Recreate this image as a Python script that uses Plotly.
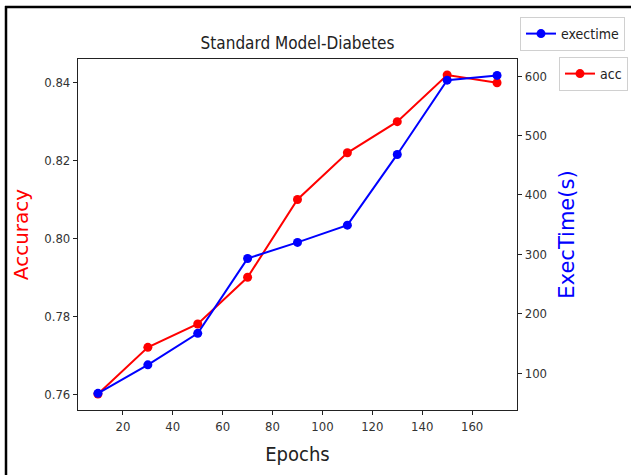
import plotly.graph_objects as go

epochs = [10, 30, 50, 70, 90, 110, 130, 150, 170]
accuracy = [0.760, 0.772, 0.778, 0.790, 0.810, 0.822, 0.830, 0.842, 0.840]
exectime = [66, 114, 167, 293, 320, 349, 468, 593, 601]

acc_ticks = [0.76, 0.78, 0.80, 0.82, 0.84]
time_ticks = [100, 200, 300, 400, 500, 600]
epoch_ticks = [20, 40, 60, 80, 100, 120, 140, 160]

W, H = 631, 475
L, R, T, B = 78, 114, 59, 65
pw, ph = W - L - R, H - T - B

cond = "DejaVu Sans Condensed, Liberation Sans Narrow, DejaVu Sans, sans-serif"
norm = "DejaVu Sans, sans-serif"

fig = go.Figure()
fig.add_trace(go.Scatter(
    x=epochs, y=accuracy, name="acc", mode="lines+markers",
    line=dict(color="#ff0000", width=2), marker=dict(color="#ff0000", size=9),
    yaxis="y", legend="legend2"))
fig.add_trace(go.Scatter(
    x=epochs, y=exectime, name="exectime", mode="lines+markers",
    line=dict(color="#0000ff", width=2), marker=dict(color="#0000ff", size=9),
    yaxis="y2", legend="legend"))

def px2paper_x(px):
    return (px - L) / pw

def px2paper_y(py):
    return (H - B - py) / ph

axis_common = dict(showgrid=False, zeroline=False, showline=True, linecolor="#222",
                   linewidth=1.2, ticks="outside", ticklen=4, tickcolor="#222",
                   tickfont=dict(family=cond, size=13, color="#333"), mirror=False,
                   automargin=False)

fig.update_layout(
    width=W, height=H,
    margin=dict(l=L, r=R, t=T, b=B, autoexpand=False),
    paper_bgcolor="white", plot_bgcolor="white",
    title=dict(text="Standard Model-Diabetes", x=297.5 / W,
               xanchor="center", y=1 - 43 / H, yanchor="middle",
               font=dict(family=cond, size=17, color="#222")),
    xaxis=dict(range=[2, 178], tickvals=epoch_ticks, mirror=True,
               title=dict(text="Epochs", font=dict(family=cond, size=20, color="#222"), standoff=14),
               **{k: v for k, v in axis_common.items() if k != "mirror"}),
    yaxis=dict(range=[0.7559, 0.8461], tickvals=acc_ticks, tickformat=".2f",
               title=dict(text="Accuracy", font=dict(family=norm, size=20, color="#ff0000"), standoff=10),
               **axis_common),
    yaxis2=dict(range=[38, 628.6], tickvals=time_ticks, overlaying="y", side="right",
                title=dict(text="ExecTime(s)", font=dict(family=norm, size=21, color="#0000ff"), standoff=13),
                **axis_common),
    legend=dict(x=px2paper_x(520), y=px2paper_y(17), xanchor="left", yanchor="top",
                bgcolor="white", bordercolor="#d0d0d0", borderwidth=1,
                font=dict(family=cond, size=14, color="#222"), itemwidth=30),
    legend2=dict(x=px2paper_x(559), y=px2paper_y(57), xanchor="left", yanchor="top",
                 bgcolor="white", bordercolor="#d0d0d0", borderwidth=1,
                 font=dict(family=cond, size=14, color="#222"), itemwidth=30),
    showlegend=True,
)

# outer black frame (left and top edges)
fig.add_shape(type="line", xref="paper", yref="paper",
              x0=px2paper_x(6), x1=px2paper_x(6), y0=px2paper_y(6), y1=px2paper_y(480),
              line=dict(color="black", width=2.5))
fig.add_shape(type="line", xref="paper", yref="paper",
              x0=px2paper_x(5), x1=px2paper_x(640), y0=px2paper_y(7), y1=px2paper_y(7),
              line=dict(color="black", width=2.5))

fig.write_html("out.html")
